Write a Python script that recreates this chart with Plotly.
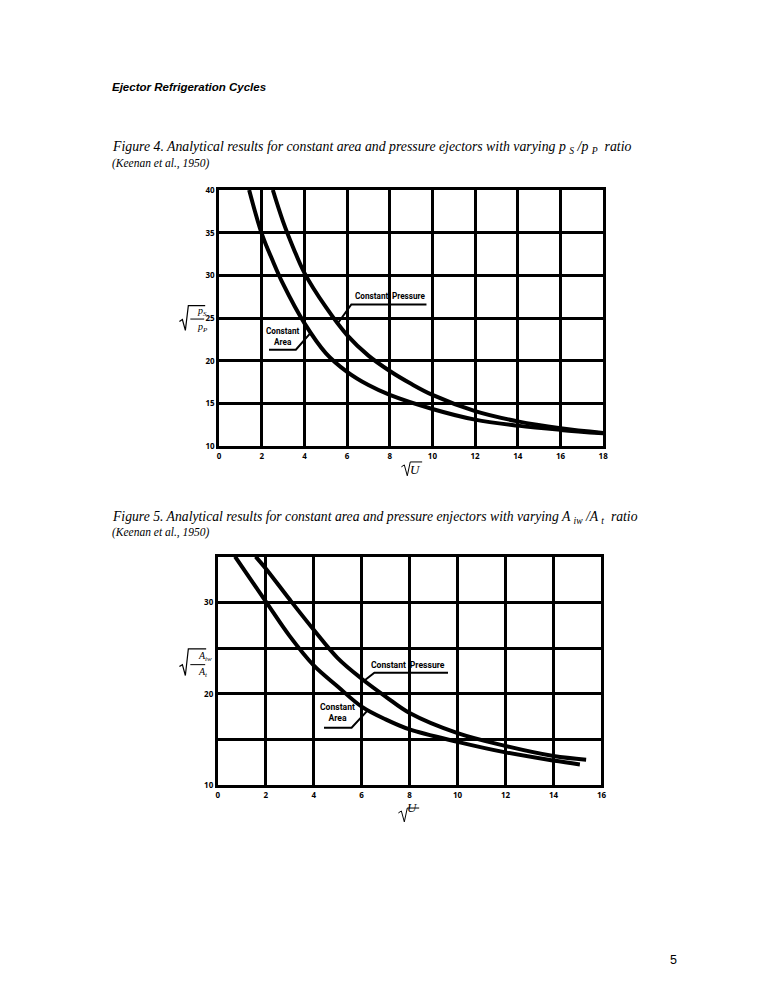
import plotly.graph_objects as go

# Figure 4 data (sqrt(U) vs sqrt(pS/pP))
f4_area_x = [1.41, 2, 2.5, 3, 4, 5, 6, 7, 8, 10, 12, 14, 16, 18]
f4_area_y = [40, 34.9, 31.8, 29.0, 24.4, 20.9, 18.7, 17.15, 16.0, 14.35, 13.1, 12.4, 11.9, 11.5]
f4_pres_x = [2.52, 3, 3.5, 4, 5, 6, 7, 8, 9, 10, 12, 14, 16, 18]
f4_pres_y = [40, 36.3, 33.1, 30.3, 26.3, 23.0, 20.6, 18.8, 17.3, 16.0, 14.1, 12.9, 12.1, 11.55]

# Figure 5 data (sqrt(U) vs sqrt(Aiw/At))
f5_area_x = [0.72, 2, 3, 4, 5, 6, 7, 8, 10, 12, 14, 15.1]
f5_area_y = [35, 30.1, 26.3, 23.1, 20.8, 18.6, 17.2, 16.1, 14.75, 13.6, 12.7, 12.27]
f5_pres_x = [1.58, 2, 3, 4, 5, 6, 7, 8, 10, 12, 14, 15.36]
f5_pres_y = [35, 33.7, 30.3, 27.0, 23.9, 21.65, 19.7, 17.9, 15.7, 14.3, 13.2, 12.8]

f4_xticks = list(range(0, 19, 2))
f4_yticks = [10, 15, 20, 25, 30, 35, 40]
f5_xticks = list(range(0, 17, 2))
f5_yticks = [10, 15, 20, 25, 30]
f5_ytext = ["10", "", "20", "", "30"]

# the page body has an 8px margin, so the figure is 16px smaller than the window
W, H = 756, 984


def px(x):
    return (x - 8) / W


def py(y):
    return 1 - (y - 8) / H


fig = go.Figure()
for xs, ys, xa, ya in [(f4_area_x, f4_area_y, "x", "y"), (f4_pres_x, f4_pres_y, "x", "y"),
                       (f5_area_x, f5_area_y, "x2", "y2"), (f5_pres_x, f5_pres_y, "x2", "y2")]:
    fig.add_trace(go.Scatter(x=xs, y=ys, xaxis=xa, yaxis=ya, mode="lines",
                             line=dict(color="black", width=4, shape="spline", smoothing=1.0),
                             showlegend=False, hoverinfo="skip"))

tickfont = dict(family="Open Sans", size=8, color="black", weight="bold")
axis_common = dict(showline=True, mirror=True, linecolor="black", linewidth=2.8,
                   showgrid=True, gridcolor="black", gridwidth=2.5, zeroline=False,
                   ticks="", tickfont=tickfont, fixedrange=True)

fig.update_layout(
    width=W, height=H, margin=dict(l=0, r=0, t=0, b=0),
    paper_bgcolor="white", plot_bgcolor="white", showlegend=False,
    font=dict(color="black"),
    xaxis=dict(domain=[px(219), px(606.7)], range=[0, 18], tickvals=f4_xticks,
               anchor="y", **axis_common),
    yaxis=dict(domain=[py(445), py(186)], range=[10, 40], tickvals=f4_yticks,
               anchor="x", **axis_common),
    xaxis2=dict(domain=[px(217.7), px(605)], range=[0, 16], tickvals=f5_xticks,
                anchor="y2", **axis_common),
    yaxis2=dict(domain=[py(788), py(556.7)], range=[10, 35], tickvals=f5_yticks,
                ticktext=f5_ytext, anchor="x2", **axis_common),
)

serif = "Liberation Serif"
sans = "Liberation Sans"
anns = [
    dict(x=px(109), y=py(82), text="<b><i>Ejector Refrigeration Cycles</i></b>",
         font=dict(family=sans, size=11.5)),
    dict(x=px(109), y=py(143),
         text="<i>Figure 4. Analytical results for constant area and pressure ejectors with varying p <sub>S</sub> /p <sub>P</sub>  ratio</i>",
         font=dict(family=serif, size=13.8)),
    dict(x=px(109), y=py(159), text="<i>(Keenan et al., 1950)</i>",
         font=dict(family=serif, size=11.5)),
    dict(x=px(109), y=py(517),
         text="<i>Figure 5. Analytical results for constant area and pressure enjectors with varying A <sub>iw</sub> /A <sub>t</sub>  ratio</i>",
         font=dict(family=serif, size=13.7)),
    dict(x=px(109), y=py(532), text="<i>(Keenan et al., 1950)</i>",
         font=dict(family=serif, size=11.5)),
    dict(x=px(672), y=py(965), text="5", font=dict(family=sans, size=12.5)),
]
for a in anns:
    a.update(xref="paper", yref="paper", xanchor="left", yanchor="middle", showarrow=False)
    fig.add_annotation(**a)


def page_path(pts):
    return "M " + " L ".join(f"{px(x):.5f},{py(y):.5f}" for x, y in pts)


def radical(x0, ytop, ybot, xend, width=1.2):
    # hook, down stroke, up stroke, vinculum
    pts = [(x0, ybot - 9), (x0 + 3, ybot - 11), (x0 + 6, ybot), (x0 + 9, ytop), (xend, ytop)]
    fig.add_shape(type="path", xref="paper", yref="paper", path=page_path(pts),
                  line=dict(color="black", width=width))


def frac_label(cx, bar_y, top, bot, x_start, x_end):
    fig.add_annotation(x=px(cx), y=py(bar_y - 0.5), xref="paper", yref="paper",
                       text="<i>" + top + "</i>", showarrow=False, yanchor="bottom",
                       font=dict(family=serif, size=10), borderpad=0)
    fig.add_annotation(x=px(cx), y=py(bar_y + 0.5), xref="paper", yref="paper",
                       text="<i>" + bot + "</i>", showarrow=False, yanchor="top",
                       font=dict(family=serif, size=10), borderpad=0)
    fig.add_shape(type="line", xref="paper", yref="paper", x0=px(x_start), x1=px(x_end),
                  y0=py(bar_y), y1=py(bar_y), line=dict(color="black", width=1))


# y-axis titles
radical(179, 303, 328, 205)
frac_label(195.5, 316.5, "p<sub>S</sub>", "p<sub>P</sub>", 190, 204)
radical(179, 650, 677, 206)
frac_label(197, 666, "A<sub>iw</sub>", "A<sub>t</sub>", 190, 205)

# x-axis titles
for cx, cy in [(416, 469), (413, 819)]:
    radical(cx - 13, cy - 8, cy + 6, cx + 8, width=1)
    fig.add_annotation(x=px(cx + 1), y=py(cy), xref="paper", yref="paper", showarrow=False,
                       text="<i>U</i>", font=dict(family=serif, size=13), borderpad=0)

# curve labels with underline leaders
labels = [
    ("x", "y", "Constant\u2009 Pressure", 8.05, 27.6, 8.2,
     [(5.54, 24.3), (6.2, 26.6), (9.72, 26.6)]),
    ("x", "y", "Constant<br>Area", 2.98, 22.8, 8.2,
     [(2.34, 21.3), (3.6, 21.3), (4.3, 23.3)]),
    ("x2", "y2", "Constant\u2009 Pressure", 7.95, 23.2, 8.6,
     [(6.09, 21.4), (6.53, 22.3), (9.6, 22.3)]),
    ("x2", "y2", "Constant<br>Area", 4.99, 18.0, 8.6,
     [(4.43, 16.3), (5.58, 16.3), (6.29, 18.3)]),
]
for xa, ya, txt, tx, ty, fs, pts in labels:
    fig.add_annotation(x=tx, y=ty, xref=xa, yref=ya, text=txt, showarrow=False,
                       font=dict(family="Roboto", size=fs, color="black", weight="bold"))
    path = "M " + " L ".join(f"{x},{y}" for x, y in pts)
    fig.add_shape(type="path", xref=xa, yref=ya, path=path, line=dict(color="black", width=2))

fig.write_html("out.html")
